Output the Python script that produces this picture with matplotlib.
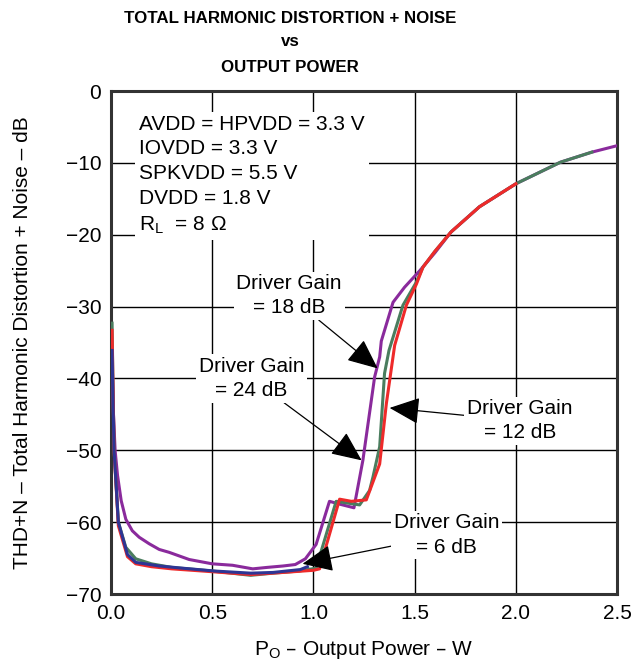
import matplotlib
matplotlib.use("Agg")
import matplotlib.pyplot as plt

plt.rcParams['font.family'] = ['Liberation Sans', 'DejaVu Sans']

# ---- data (W, dB) ----
red_x = [0.005, 0.01, 0.015, 0.036, 0.081, 0.122, 0.2, 0.3, 0.5, 0.69, 0.85, 0.95, 1.0, 1.03,
         1.129, 1.187, 1.261, 1.327, 1.36, 1.401, 1.459, 1.508, 1.541, 1.60, 1.68, 1.82, 2.0]
red_y = [-33.3, -42, -50, -60.5, -64.8, -65.8, -66.2, -66.5, -66.9, -67.3, -67.0, -66.8, -66.7, -66.5,
         -56.8, -57.1, -56.9, -51.9, -43.5, -35.4, -29.8, -26.9, -24.5, -22.3, -19.6, -16.1, -12.9]

green_x = [0.005, 0.01, 0.015, 0.036, 0.073, 0.122, 0.2, 0.3, 0.5, 0.69, 0.8, 0.93, 1.013,
           1.112, 1.228, 1.277, 1.294, 1.327, 1.351, 1.373, 1.442, 1.508, 1.541, 1.60, 1.68,
           1.82, 2.0, 2.22, 2.375]
green_y = [-32.3, -42, -50, -60, -63.5, -65.1, -65.8, -66.3, -66.8, -67.4, -67.1, -66.8, -66.4,
           -57.1, -57.6, -55.6, -53.7, -49.5, -39.3, -36.1, -29.8, -26.6, -24.5, -22.3, -19.6,
           -16.1, -12.9, -9.9, -8.5]

purple_x = [0.005, 0.012, 0.02, 0.032, 0.05, 0.073, 0.105, 0.139, 0.188, 0.238, 0.287, 0.386, 0.50,
            0.60, 0.70, 0.77, 0.85, 0.91, 0.96, 1.013, 1.079, 1.13, 1.20, 1.244, 1.302, 1.327,
            1.335, 1.393, 1.45, 1.525, 1.60, 1.68, 1.82, 2.0, 2.22, 2.375, 2.5]
purple_y = [-37, -45, -50, -53.5, -57.0, -59.6, -61.2, -62.1, -63.0, -63.8, -64.2, -65.2, -65.8,
            -66.0, -66.5, -66.3, -66.1, -65.9, -65.1, -63.1, -57.1, -57.5, -58.0, -51.4, -39.8, -37.0,
            -34.8, -29.4, -27.3, -25.0, -22.5, -19.6, -16.1, -12.9, -9.9, -8.5, -7.6]

blue_x = [0.005, 0.01, 0.015, 0.036, 0.081, 0.122, 0.238, 0.35, 0.51, 0.69, 0.8, 0.935, 0.97]
blue_y = [-36.1, -44, -50, -60, -64.5, -65.6, -66.1, -66.4, -66.8, -67.1, -67.0, -66.6, -66.2]

x_ticks = [0.0, 0.5, 1.0, 1.5, 2.0, 2.5]
x_tick_labels = ["0.0", "0.5", "1.0", "1.5", "2.0", "2.5"]
y_ticks = [0, -10, -20, -30, -40, -50, -60, -70]

fig = plt.figure(figsize=(6.31, 6.60), dpi=100)
ax = fig.add_axes([0.176, 0.10, 0.802, 0.762])

ax.plot(purple_x, purple_y, color="#8a2a9c", lw=2.2, zorder=3)
ax.plot(green_x, green_y, color="#4a7d5e", lw=2.2, zorder=4)
ax.plot(red_x, red_y, color="#ee2a2a", lw=2.2, zorder=5)
ax.plot(blue_x, blue_y, color="#2e3594", lw=2.2, zorder=6)

ax.set_xlim(0, 2.5)
ax.set_ylim(-70, 0)
ax.set_xticks(x_ticks)
ax.set_xticklabels(x_tick_labels)
ax.set_yticks(y_ticks)
ax.tick_params(length=0, labelsize=15, pad=7)
ax.grid(True, color="black", lw=1.0, zorder=1)
for s in ax.spines.values():
    s.set_linewidth(2.2)
    s.set_color("#333333")

ax.set_xlabel("P$_\\mathregular{O}$ – Output Power – W", fontsize=15, labelpad=12)
ax.set_ylabel("THD+N – Total Harmonic Distortion + Noise – dB", fontsize=15, labelpad=24)

fig.text(0.46, 0.972, "TOTAL HARMONIC DISTORTION + NOISE", ha="center", va="center",
         fontsize=12.2, fontweight="bold")
fig.text(0.46, 0.937, "vs", ha="center", va="center", fontsize=12.2, fontweight="bold")
fig.text(0.46, 0.898, "OUTPUT POWER", ha="center", va="center", fontsize=12.2,
         fontweight="bold")

# conditions block
ax.text(0.14, -3.3,
        "AVDD = HPVDD = 3.3 V\nIOVDD = 3.3 V\nSPKVDD = 5.5 V\nDVDD = 1.8 V\nR$_\\mathregular{L}$  = 8 Ω",
        ha="left", va="top", fontsize=15, linespacing=1.38, zorder=7,
        bbox=dict(facecolor="white", edgecolor="none", pad=3))

arrow = dict(arrowstyle="-|>,head_length=0.9,head_width=0.4", color="black", lw=0.9,
             mutation_scale=21, shrinkA=0, shrinkB=0)
box = dict(facecolor="white", edgecolor="none", pad=2)

ax.annotate("Driver Gain\n= 18 dB", xy=(1.317, -38.6), xytext=(0.88, -28.5),
            ha="center", va="center", fontsize=15, linespacing=1.35, bbox=box,
            arrowprops=arrow, zorder=8)
ax.annotate("Driver Gain\n= 24 dB", xy=(1.238, -51.4), xytext=(0.693, -40.0),
            ha="center", va="center", fontsize=15, linespacing=1.35, bbox=box,
            arrowprops=arrow, zorder=8)
ax.annotate("Driver Gain\n= 12 dB", xy=(1.376, -44.1), xytext=(2.02, -45.9),
            ha="center", va="center", fontsize=15, linespacing=1.35, bbox=box,
            arrowprops=arrow, zorder=8)
ax.annotate("Driver Gain\n= 6 dB", xy=(0.946, -65.8), xytext=(1.658, -61.8),
            ha="center", va="center", fontsize=15, linespacing=1.35, bbox=box,
            arrowprops=arrow, zorder=8)

plt.savefig("out.png", dpi=100, facecolor="white")
